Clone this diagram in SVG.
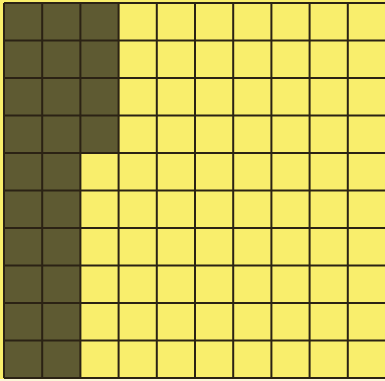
<svg xmlns="http://www.w3.org/2000/svg" width="385" height="381" viewBox="0 0 385 381">
<style>
.bg{fill:#F9EE6C}
.dark{fill:#5E5A32}
.ln{stroke:#2B2214;stroke-width:2;fill:none}
</style>
<rect x="0" y="0" width="385" height="381" fill="#FBF6D8"/>
<rect class="bg" x="0" y="0" width="385" height="379"/>
<g id="dark-area">
<path class="dark" d="M4 3 H118.6 V153 H80.4 V378 H4 Z"/>
</g>
<g id="grid">
<path class="ln" d="M4 3 V378 M42.2 3 V378 M80.4 3 V378 M118.6 3 V378 M156.8 3 V378 M195 3 V378 M233.2 3 V378 M271.4 3 V378 M309.6 3 V378 M347.8 3 V378"/>
<path class="ln" d="M4 3 H386 M4 40.5 H386 M4 78 H386 M4 115.5 H386 M4 153 H386 M4 190.5 H386 M4 228 H386 M4 265.5 H386 M4 303 H386 M4 340.5 H386 M4 378 H386"/>
</g>
</svg>
